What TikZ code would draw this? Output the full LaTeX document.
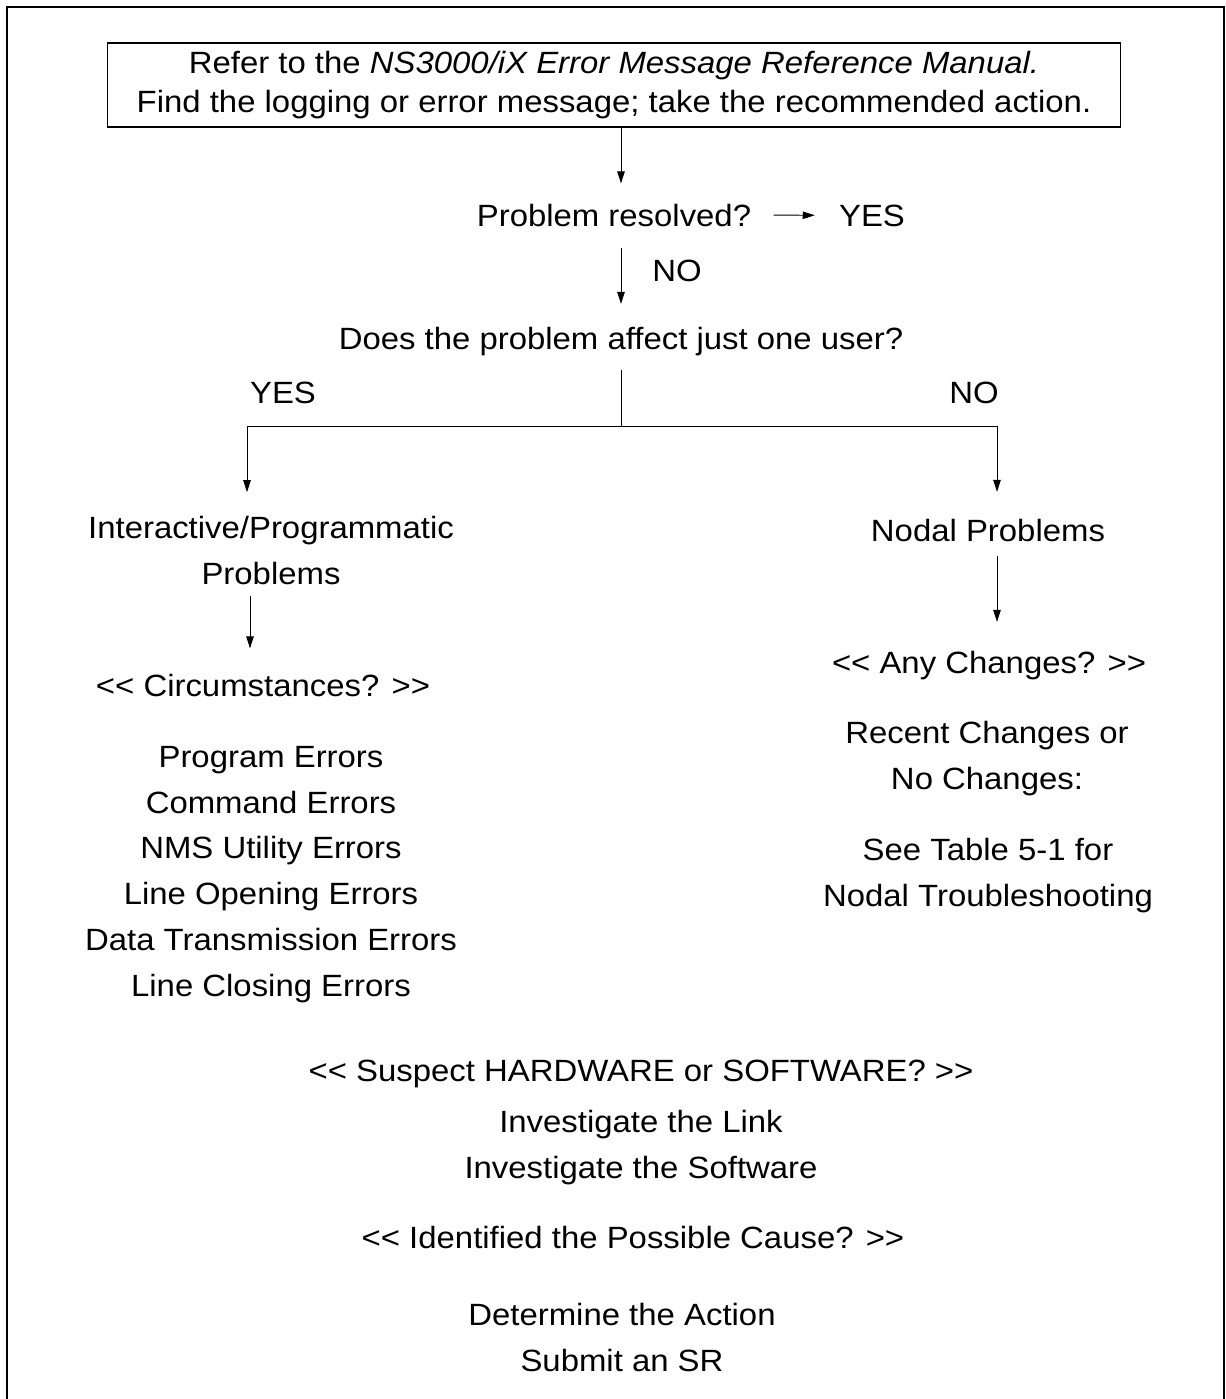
\documentclass[tikz,border=0pt]{standalone}
\usepackage{fontspec}
\setmainfont[FakeStretch=1.07]{Liberation Sans}
\usetikzlibrary{arrows.meta}

% guillemet-like pairs, kept apart from the TeX ligature mapping
\newcommand{\ltlt}{<\kern0pt<}
\newcommand{\gtgt}{>\kern0pt>}

\begin{document}
\begin{tikzpicture}[
  x=0.02cm,y=-0.02cm,
  font=\fontsize{17.5}{26}\selectfont,
  txt/.style={anchor=base,inner sep=0pt,align=center},
  refbox/.style={draw,line width=0.6pt,minimum width=20.28cm,minimum height=1.68cm,
    inner sep=0pt,align=center,font=\fontsize{17.5}{22}\selectfont},
  frame/.style={line width=1.4pt},
  e/.style={line width=0.55pt},
  arr/.style={line width=0.55pt,-{Triangle[length=2.4mm,width=1.5mm]}}
]
\useasboundingbox (0,0) rectangle (1225,1399);

% Layout:
% top box, first question, split into YES / NO columns,
% then the common steps at the bottom
% (multi-line nodes are placed by the baseline of their last line)

%%%%%%%%%%%%%%%%%%%%%%%%%%%%%%%%%%%%%%%%%%%%%%%%%%%%
% Frame
%%%%%%%%%%%%%%%%%%%%%%%%%%%%%%%%%%%%%%%%%%%%%%%%%%%%
\draw[frame] (7,1399) -- (7,7) -- (1224,7) -- (1224,1399);

%%%%%%%%%%%%%%%%%%%%%%%%%%%%%%%%%%%%%%%%%%%%%%%%%%%%
% Top: manual and first questions
%%%%%%%%%%%%%%%%%%%%%%%%%%%%%%%%%%%%%%%%%%%%%%%%%%%%
\node[refbox] (refer) at (614,85) {Refer to the \textit{NS3000/iX Error Message Reference Manual.}\\
  Find the logging or error message; take the recommended action.};

\node[txt] (res) at (614,226) {Problem resolved?};
\node[txt] (yes1) at (872,226) {YES};
\node[txt] (no1) at (677,281) {NO};
\node[txt] (ask) at (621,349) {Does the problem affect just one user?};

\draw[arr,shorten >=0.4cm] (refer.south -| ask) -- (res.north -| ask);
\draw[arr,shorten <=0.44cm,shorten >=0.48cm] (res.east) -- (yes1.west);
\draw[arr,shorten <=0.42cm,shorten >=0.45cm] (res.south -| ask) -- (ask.north);

%%%%%%%%%%%%%%%%%%%%%%%%%%%%%%%%%%%%%%%%%%%%%%%%%%%%
% Split
%%%%%%%%%%%%%%%%%%%%%%%%%%%%%%%%%%%%%%%%%%%%%%%%%%%%
\node[txt] (yes2) at (283,403) {YES};
\node[txt] (no2) at (974,403) {NO};

\coordinate (split) at (621,426);
\coordinate (jl) at (247,426);
\coordinate (jr) at (997,426);

\node[txt] (inter) at (271,584) {Interactive/Programmatic\\Problems};
\node[txt] (nodal) at (988,541) {Nodal Problems};

\draw[e,shorten <=0.29cm] (ask.south) -- (split);
\draw[e] (jl) -- (jr);
\draw[arr,shorten >=0.47cm] (jl) -- (jl |- inter.north);
\draw[arr,shorten >=0.53cm] (jr) -- (jr |- nodal.north);

%%%%%%%%%%%%%%%%%%%%%%%%%%%%%%%%%%%%%%%%%%%%%%%%%%%%
% YES: one user
%%%%%%%%%%%%%%%%%%%%%%%%%%%%%%%%%%%%%%%%%%%%%%%%%%%%
\node[txt] (circ) at (263,696) {\ltlt{} Circumstances? \gtgt};
\node[txt] (errs) at (271,996) {Program Errors\\Command Errors\\NMS Utility Errors\\
  Line Opening Errors\\Data Transmission Errors\\Line Closing Errors};

\draw[arr,shorten <=0.22cm,shorten >=0.5cm] (inter.south -| 250,0) -- (circ.north -| 250,0);

%%%%%%%%%%%%%%%%%%%%%%%%%%%%%%%%%%%%%%%%%%%%%%%%%%%%
% NO: nodal
%%%%%%%%%%%%%%%%%%%%%%%%%%%%%%%%%%%%%%%%%%%%%%%%%%%%
\node[txt] (anyc) at (989,673) {\ltlt{} Any Changes? \gtgt};
\node[txt] (recent) at (987,789) {Recent Changes or\\No Changes:};
\node[txt] (table) at (988,906) {See Table 5-1 for\\Nodal Troubleshooting};

\draw[arr,shorten <=0.28cm,shorten >=0.57cm] (nodal.south -| jr) -- (anyc.north -| jr);

%%%%%%%%%%%%%%%%%%%%%%%%%%%%%%%%%%%%%%%%%%%%%%%%%%%%
% Bottom: common steps
%%%%%%%%%%%%%%%%%%%%%%%%%%%%%%%%%%%%%%%%%%%%%%%%%%%%
\node[txt] (suspect) at (641,1081) {\ltlt{} Suspect HARDWARE or SOFTWARE? \gtgt};
\node[txt] (invest) at (641,1178) {Investigate the Link\\Investigate the Software};
\node[txt] (ident) at (633,1248) {\ltlt{} Identified the Possible Cause? \gtgt};
\node[txt] (action) at (622,1371) {Determine the Action\\Submit an SR};

\end{tikzpicture}
\end{document}
